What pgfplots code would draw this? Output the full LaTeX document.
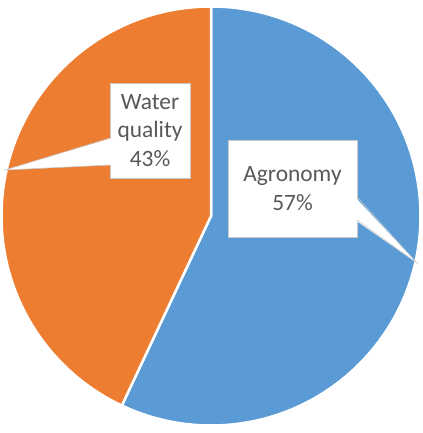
\documentclass[border=0pt]{standalone}
\usepackage{pgfplots}
\pgfplotsset{compat=1.18}
\usepackage{pgfplotstable}
\usepackage{fontspec}
\setmainfont{Carlito}
\definecolor{agrocol}{HTML}{5B9BD5}
\definecolor{watercol}{HTML}{ED7D31}
\definecolor{lblcol}{HTML}{595959}
\definecolor{edgecol}{HTML}{C8C8C8}

% share of each topic, in percent
\pgfplotstableread{
topic share
Agronomy 57
Water 43
}\shares

\begin{document}
\begin{tikzpicture}
\pgfplotstablegetelem{0}{share}\of\shares \let\agroval\pgfplotsretval
\pgfplotstablegetelem{1}{share}\of\shares \let\waterval\pgfplotsretval
\pgfmathsetmacro{\agroend}{90-3.6*\agroval}
\pgfmathsetmacro{\waterend}{90+3.6*\waterval}
\begin{axis}[
  width=423bp, height=433bp, scale only axis,
  xmin=0, xmax=423, ymin=0, ymax=433,
  hide axis, clip=false]
  % slices: clockwise from twelve o'clock
  \fill[agrocol, draw=white, line width=2.5bp]
    (axis cs:211,217) -- (axis cs:211,426.5)
    arc[start angle=90, end angle=\agroend, radius=209.5bp] -- cycle;
  \fill[watercol, draw=white, line width=2.5bp]
    (axis cs:211,217) -- (axis cs:211,426.5)
    arc[start angle=90, end angle=\waterend, radius=209.5bp] -- cycle;
  % label boxes
  \node[fill=white, draw=edgecol, line width=0.6bp, minimum width=129bp, minimum height=97bp,
        inner sep=0pt, align=center, text=lblcol, font=\fontsize{23.5}{28.5}\selectfont]
    at (axis cs:292.5,244.5) {Agronomy\\\agroval\%};
  \node[fill=white, draw=edgecol, line width=0.6bp, minimum width=80bp, minimum height=95bp,
        inner sep=0pt, align=center, text=lblcol, font=\fontsize{23.5}{28.5}\selectfont]
    at (axis cs:150,302.5) {Water\\quality\\\waterval\%};
  % callout pointers
  \fill[white] (axis cs:355,236) -- (axis cs:417,170) -- (axis cs:355,213) -- cycle;
  \draw[edgecol, line width=0.6bp] (axis cs:357,236) -- (axis cs:417,170) -- (axis cs:357,213);
  \fill[white] (axis cs:112,295) -- (axis cs:5,263) -- (axis cs:112,268) -- cycle;
  \draw[edgecol, line width=0.6bp] (axis cs:110,295) -- (axis cs:5,263) -- (axis cs:110,268);
\end{axis}
\pgfresetboundingbox
\path (current axis.south west) rectangle (current axis.north east);
\end{tikzpicture}
\end{document}
